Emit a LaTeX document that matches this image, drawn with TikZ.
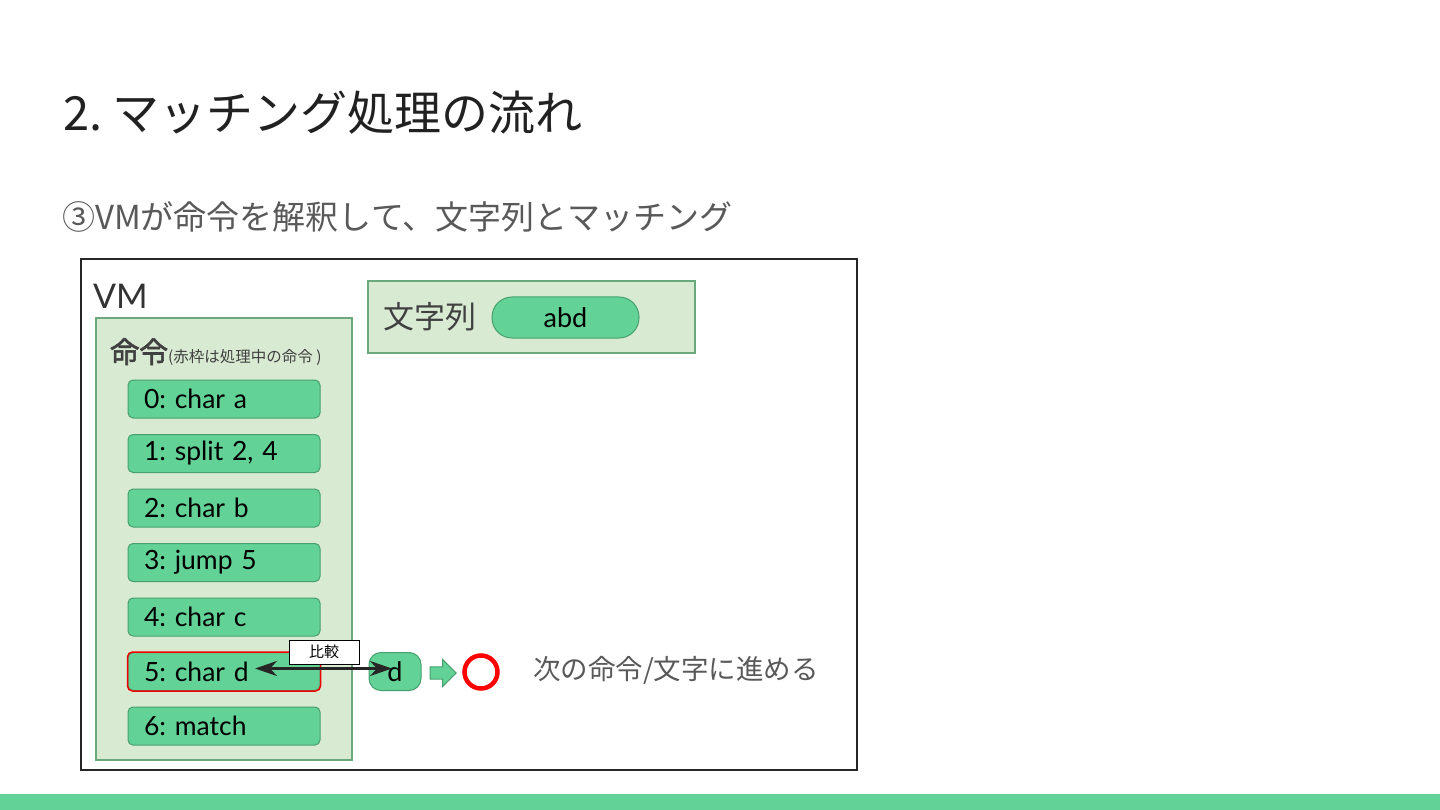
\documentclass[tikz,border=0pt]{standalone}
\usepackage{fontspec}
\setmainfont{Noto Sans CJK JP}[AutoFakeBold=2]
\newfontfamily\latinfont{Lato}
\usetikzlibrary{positioning,shapes.arrows,arrows.meta}
\frenchspacing

\definecolor{boxfill}{RGB}{99,210,151}
\definecolor{boxline}{RGB}{70,160,110}
\definecolor{panelfill}{RGB}{217,234,211}
\definecolor{panelline}{RGB}{106,168,125}
\definecolor{titletext}{RGB}{33,33,33}
\definecolor{subtext}{RGB}{89,89,89}
\definecolor{hitred}{RGB}{240,0,0}

\begin{document}
\begin{tikzpicture}[x=1pt, y=-1pt,
	panel/.style={rectangle, draw=panelline, fill=panelfill, line width=1.5pt, inner sep=0pt},
	instr/.style={rectangle, draw=boxline, fill=boxfill, line width=1pt, rounded corners=5pt, minimum height=38pt, text width=160pt, inner xsep=16pt, align=left, font=\fontsize{26.5}{26.5}\selectfont\latinfont, text=black},
	pill/.style={draw=boxline, fill=boxfill, line width=1pt, text=black, font=\fontsize{27}{27}\selectfont\latinfont}]

	\useasboundingbox[fill=white] (0,0) rectangle (1440,810);
	\fill[boxfill] (0,794) rectangle (1440,810);

	% title and subtitle
	\node[anchor=west, inner sep=0pt, text=titletext, font=\fontsize{47}{47}\selectfont] (title) at (63,113) {2. マッチング処理の流れ};
	\node[anchor=west, inner sep=0pt, text=subtext, font=\fontsize{33}{33}\selectfont] (subtitle) at (62,217) {③VMが命令を解釈して、文字列とマッチング};

	% VM frame
	\node[draw=black!85, line width=1.5pt, minimum width=776pt, minimum height=511pt, inner sep=0pt] (vm) at (469,514.5) {};
	\node[anchor=west, inner sep=0pt, text=black!80, font=\fontsize{34}{34}\selectfont\latinfont] (vmlabel) at (93,296) {VM};

	% instruction list
	\node[panel, minimum width=256pt, minimum height=442pt] (code) at (224,539) {};
	\node[anchor=west, inner sep=0pt, text=black!75, font=\fontsize{29}{29}\selectfont] (codelabel) at (110,352) {\textbf{命令}{\fontsize{15.5}{15.5}\selectfont(赤枠は処理中の命令 )}};
	\foreach \n/\txt in {0/{0: char a}, 1/{1: split 2, 4}, 2/{2: char b}, 3/{3: jump 5}, 4/{4: char c}, 5/{5: char d}, 6/{6: match}} {
		\node[instr] (i\n) at (224,{399+54.5*\n}) {\txt};
	}
	\draw[hitred, line width=1.5pt, rounded corners=5pt] (i5.south west) rectangle (i5.north east);

	% input string
	\node[panel, minimum width=327pt, minimum height=72pt] (input) at (531.5,317) {};
	\node[anchor=west, inner sep=0pt, text=black!75, font=\fontsize{31}{31}\selectfont] (inputlabel) at (383,317) {文字列};
	\node[pill, rounded corners=20pt, minimum width=147pt, minimum height=41pt] (str) at (565.5,317.5) {abd};

	% comparison
	\node[pill, rounded corners=12pt, minimum width=52pt, minimum height=38pt] (dchar) at (395,671.5) {d};
	\node[draw=black, fill=white, line width=1pt, minimum width=70pt, minimum height=24pt, inner sep=0pt, font=\fontsize{15}{15}\selectfont] (cmp) at (324,652) {比較};
	\draw[line width=3.5pt, black!85, {Stealth[length=22pt,width=15pt]}-{Stealth[length=22pt,width=15pt]}] ([xshift=31pt,yshift=3pt]i5.center) -- ([xshift=-3pt,yshift=3pt]dchar.center);

	% result
	\node[single arrow, draw=boxline, fill=boxfill, line width=1pt, minimum height=26pt, minimum width=27pt, single arrow head extend=3pt, inner sep=2pt] (go) at (440,673) {};
	\node[circle, draw=red, line width=4.5pt, minimum size=33pt, inner sep=0pt] (ok) at (481,672) {};
	\node[anchor=west, inner sep=0pt, text=subtext, font=\fontsize{27.5}{27.5}\selectfont] (next) at (533,670) {次の命令/文字に進める};
\end{tikzpicture}
\end{document}
